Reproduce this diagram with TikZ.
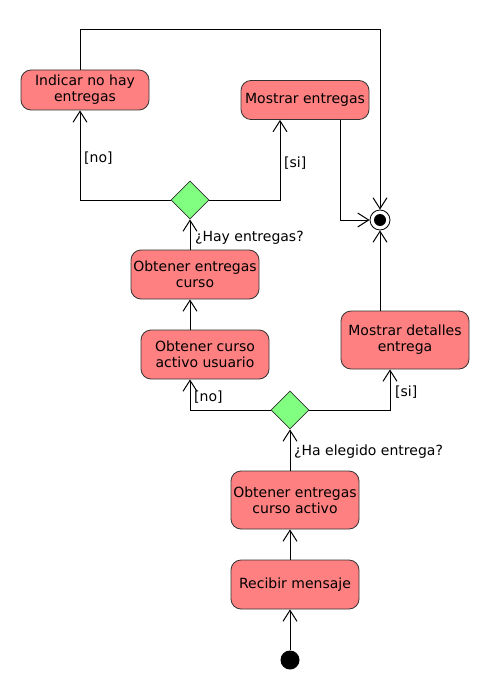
\documentclass[tikz,border=0pt]{standalone}
\usepackage{fontspec}
\setmainfont{DejaVu Sans}
\usetikzlibrary{arrows.meta,shapes.geometric}
\definecolor{boxfill}{HTML}{FF8080}
\definecolor{decfill}{HTML}{80FF80}
\definecolor{boxline}{HTML}{333333}
\begin{document}
\begin{tikzpicture}[x=1pt,y=-1pt,
  every node/.style={font=\fontsize{14}{16}\selectfont},
  act/.style={draw=boxline,line width=0.8pt,fill=boxfill,rounded corners=10pt,minimum width=128pt,inner sep=0pt,align=center},
  dec/.style={draw=boxline,line width=0.8pt,fill=decfill,diamond,minimum width=38pt,minimum height=38pt,inner sep=0pt},
  arr/.style={line width=1pt,-{Straight Barb[length=11pt,width=14pt]}},
  lbl/.style={anchor=west,inner sep=0pt}]
\useasboundingbox (0,0) rectangle (490,690);
\fill[white] (0,0) rectangle (490,690);
% activities
\node[act,minimum height=40pt] (ind) at (85,90) {Indicar no hay\\entregas};
\node[act,minimum height=39pt] (mos) at (305,100) {Mostrar entregas};
\node[act,minimum height=49pt] (oec) at (195,274.5) {Obtener entregas\\curso};
\node[act,minimum height=49pt] (oca) at (205,354.5) {Obtener curso\\activo usuario};
\node[act,minimum height=58pt] (mde) at (405,340) {Mostrar detalles\\entrega};
\node[act,minimum height=58pt] (oeca) at (295,500) {Obtener entregas\\curso activo};
\node[act,minimum height=49pt] (rec) at (295,584.5) {Recibir mensaje};
% decisions
\node[dec] (d1) at (190,200) {};
\node[dec] (d2) at (290,410) {};
% initial and final
\node[circle,fill=black,minimum size=19pt,inner sep=0pt] (init) at (290,660) {};
\node[circle,draw=black,line width=0.8pt,fill=white,minimum size=20pt,inner sep=0pt] (fin) at (380,220) {};
\fill[black] (fin.center) circle (6pt);
\coordinate (top) at (380,30);
% connectors
\draw[arr] (init) -- (rec.south -| init);
\draw[arr] (rec.north -| d2) -- (oeca.south -| d2);
\draw[arr] (oeca.north -| d2) -- (d2.south);
\draw[arr] (d2.west) -| ([xshift=-15pt]oca.south);
\draw[arr] (d2.east) -| ([xshift=-15pt]mde.south);
\draw[arr] (oca.north -| d1) -- (oec.south -| d1);
\draw[arr] (oec.north -| d1) -- (d1.south);
\draw[arr] (d1.west) -| ([xshift=-5pt]ind.south);
\draw[arr] (d1.east) -| ([xshift=-25pt]mos.south);
\draw[arr] ([xshift=-5pt]ind.north) |- (top) -- (fin.north);
\draw[arr] ([xshift=35pt]mos.south) |- (fin.west);
\draw[arr] (mde.north -| fin) -- (fin.south);
% labels
\node[lbl] (l1) at (84,158) {[no]};
\node[lbl] (l2) at (284,163) {[si]};
\node[lbl] (l3) at (195,238) {¿Hay entregas?};
\node[lbl] (l4) at (194,397) {[no]};
\node[lbl] (l5) at (395,392) {[si]};
\node[lbl] (l6) at (294,452) {¿Ha elegido entrega?};
\end{tikzpicture}
\end{document}
